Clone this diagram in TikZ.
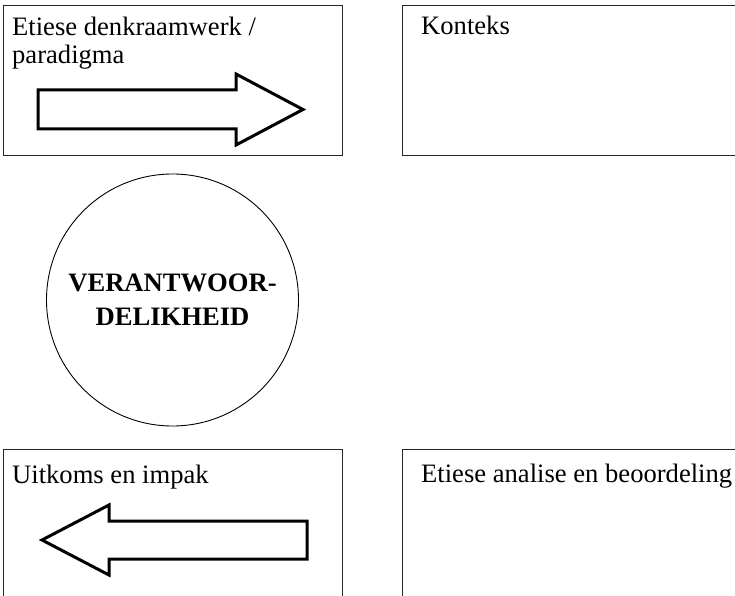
\documentclass[tikz,border=0pt]{standalone}
\usepackage{fontspec}
\setmainfont{Liberation Serif}
\begin{document}
\begin{tikzpicture}[x=1bp,y=-1bp,
  panel/.style={draw=black!85, line width=1.3bp, minimum width=339bp, minimum height=150bp, anchor=north west, inner sep=0},
  paneltext/.style={anchor=base west, inner sep=0, align=left, font=\fontsize{26.6bp}{28bp}\selectfont},
  bigarrow/.style={draw=black, line width=3bp, line join=miter, fill=white},
  ring/.style={circle, draw=black, line width=0.9bp, minimum size=252bp, inner sep=0, align=center,
    font=\bfseries\fontsize{26.6bp}{34bp}\selectfont}]
\useasboundingbox (0,0) rectangle (735,596);
\clip (0,0) rectangle (735,596);
% panels
\node[panel] (fw) at (3,5) {};
\node[panel] (ctx) at (402,5) {};
\node[panel] (out) at (3,449) {};
\node[panel] (ana) at (402,449) {};
% texts
\node[paneltext] (fwt) at (12,64) {Etiese denkraamwerk /\\paradigma};
\node[paneltext] (ctxt) at (421,35) {Konteks};
\node[paneltext] (outt) at (12,483) {Uitkoms en impak};
\node[paneltext] (anat) at (421,482) {Etiese analise en beoordeling};
% circle
\node[ring] (resp) at (172.5,300) {VERANTWOOR-\\DELIKHEID};
% arrows
\draw[bigarrow] (38,90) -- (236,90) -- (236,74) -- (303,109.5) -- (236,145) -- (236,129) -- (38,129) -- cycle;
\draw[bigarrow] (42,540) -- (109,505) -- (109,521) -- (307,521) -- (307,559) -- (109,559) -- (109,575) -- cycle;
\end{tikzpicture}
\end{document}
